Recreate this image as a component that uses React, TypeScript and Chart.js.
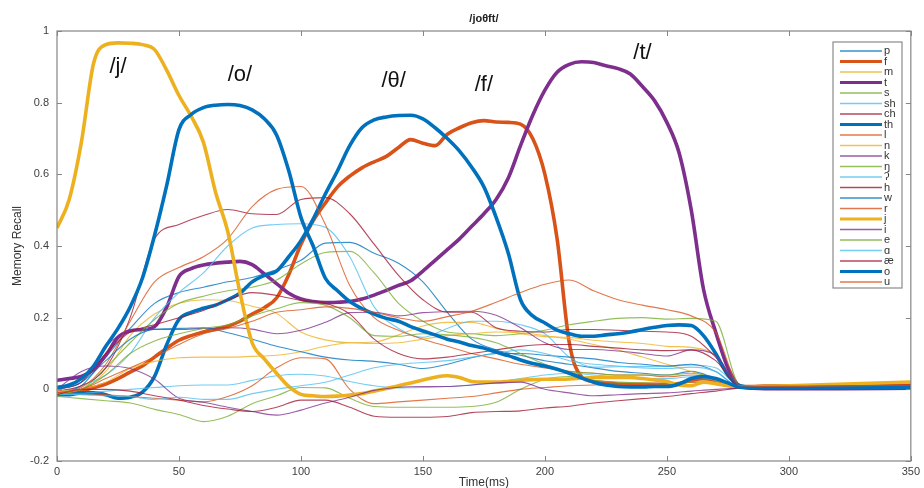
import React, { useEffect, useRef } from "react";
import { Chart, registerables } from "chart.js";

Chart.register(...registerables);

// ---------- data ----------
const titleText = "/joθft/";
const xTicks = [0, 50, 100, 150, 200, 250, 300, 350];
const yTicks = [-0.2, 0, 0.2, 0.4, 0.6, 0.8, 1];

const timeFine = [
  0, 5, 10, 15, 20, 25, 30, 35, 40, 45, 50, 55, 60, 65, 70, 75, 80, 85, 90, 95,
  100, 105, 110, 115, 120, 125, 130, 135, 140, 145, 150, 155, 160, 165, 170, 175,
  180, 185, 190, 195, 200, 205, 210, 215, 220, 225, 230, 235, 240, 245, 250, 255,
  260, 265, 270, 275, 280, 285, 290, 320, 350,
];
const timeCoarse = [
  0, 10, 20, 30, 40, 50, 60, 70, 80, 90, 100, 110, 120, 130, 140, 150, 160, 170,
  180, 190, 200, 210, 220, 230, 240, 250, 260, 270, 280, 290, 350,
];

// thick (target phonemes), on timeFine
const jValues = [0.45,0.53,0.69,0.91,0.962,0.967,0.966,0.962,0.948,0.89,0.82,0.762,0.69,0.55,0.44,0.27,0.13,0.085,0.045,0.008,-0.014,-0.018,-0.02,-0.019,-0.016,-0.012,-0.005,0.002,0.01,0.018,0.026,0.034,0.038,0.033,0.022,0.02,0.02,0.022,0.025,0.027,0.028,0.028,0.029,0.031,0.033,0.033,0.033,0.033,0.03,0.026,0.022,0.012,0.01,0.02,0.016,0.01,0.006,0.007,0.008,0.014,0.02];
const oValues = [0.005,0.012,0.03,0.065,0.12,0.17,0.23,0.31,0.43,0.57,0.725,0.767,0.786,0.793,0.795,0.792,0.78,0.755,0.71,0.61,0.48,0.40,0.31,0.275,0.245,0.225,0.21,0.198,0.19,0.175,0.163,0.152,0.14,0.132,0.122,0.115,0.104,0.094,0.082,0.072,0.065,0.056,0.045,0.032,0.02,0.012,0.008,0.007,0.007,0.008,0.008,0.015,0.03,0.036,0.03,0.018,0.006,0.005,0.005,0.005,0.006];
const thValues = [-0.015,-0.015,-0.01,-0.01,-0.015,-0.025,-0.022,-0.008,0.036,0.125,0.195,0.215,0.226,0.235,0.25,0.268,0.3,0.318,0.33,0.37,0.415,0.475,0.545,0.61,0.68,0.73,0.752,0.76,0.764,0.765,0.755,0.73,0.70,0.665,0.62,0.565,0.48,0.38,0.25,0.205,0.185,0.165,0.155,0.148,0.148,0.152,0.155,0.16,0.167,0.173,0.178,0.18,0.178,0.15,0.1,0.04,0.01,0.006,0.006,0.006,0.007];
const fValues = [-0.012,-0.012,-0.005,0.005,0.015,0.03,0.048,0.065,0.09,0.115,0.137,0.15,0.16,0.168,0.176,0.19,0.21,0.228,0.255,0.32,0.405,0.47,0.52,0.565,0.595,0.618,0.635,0.65,0.675,0.697,0.687,0.68,0.712,0.73,0.744,0.75,0.746,0.745,0.74,0.70,0.60,0.42,0.13,0.035,0.022,0.018,0.015,0.014,0.014,0.014,0.014,0.016,0.025,0.03,0.025,0.015,0.008,0.008,0.009,0.01,0.012];
const tValues = [0.025,0.03,0.036,0.055,0.095,0.145,0.163,0.167,0.175,0.23,0.315,0.337,0.347,0.352,0.355,0.357,0.348,0.322,0.295,0.268,0.252,0.245,0.242,0.243,0.245,0.252,0.263,0.276,0.29,0.303,0.33,0.36,0.39,0.42,0.455,0.49,0.53,0.59,0.68,0.765,0.835,0.885,0.907,0.914,0.912,0.903,0.895,0.88,0.845,0.805,0.745,0.66,0.50,0.28,0.16,0.06,0.008,0.003,0.002,0.002,0.003];

// thin (other phonemes), on timeCoarse
const pValues = [-0.01,0.01,0.09,0.17,0.24,0.27,0.285,0.3,0.312,0.334,0.36,0.408,0.41,0.38,0.352,0.3,0.215,0.14,0.11,0.095,0.08,0.07,0.06,0.05,0.045,0.04,0.05,0.03,0.005,0.005,0.008];
const mValues = [-0.01,0.0,0.05,0.15,0.21,0.24,0.25,0.248,0.232,0.212,0.16,0.138,0.13,0.132,0.152,0.177,0.187,0.187,0.17,0.155,0.147,0.145,0.137,0.132,0.128,0.12,0.117,0.095,0.01,0.006,0.01];
const sValues = [-0.01,0.0,0.06,0.13,0.195,0.24,0.26,0.275,0.285,0.305,0.35,0.382,0.385,0.325,0.24,0.19,0.16,0.155,0.15,0.155,0.165,0.18,0.19,0.198,0.2,0.196,0.198,0.19,0.01,0.005,0.008];
const shValues = [-0.01,0.01,0.04,0.1,0.2,0.27,0.325,0.4,0.45,0.46,0.462,0.452,0.37,0.23,0.17,0.145,0.17,0.19,0.19,0.18,0.155,0.09,0.062,0.063,0.064,0.064,0.068,0.06,0.008,0.005,0.008];
const chValues = [-0.005,0.01,0.06,0.2,0.42,0.46,0.485,0.502,0.49,0.488,0.53,0.535,0.49,0.405,0.318,0.25,0.215,0.215,0.172,0.162,0.16,0.167,0.167,0.165,0.162,0.16,0.148,0.09,0.008,0.006,0.012];
const lValues = [-0.01,0.005,0.07,0.19,0.3,0.34,0.37,0.42,0.51,0.558,0.566,0.46,0.29,0.2,0.165,0.14,0.12,0.1,0.085,0.07,0.06,0.05,0.045,0.04,0.04,0.035,0.04,0.03,0.006,0.006,0.01];
const nValues = [-0.005,0.0,0.02,0.058,0.078,0.088,0.09,0.09,0.092,0.095,0.105,0.12,0.13,0.128,0.13,0.14,0.15,0.155,0.16,0.158,0.15,0.14,0.125,0.11,0.09,0.07,0.05,0.03,0.006,0.006,0.01];
const kValues = [0.0,0.02,0.12,0.163,0.167,0.167,0.17,0.172,0.168,0.155,0.165,0.187,0.214,0.215,0.205,0.214,0.217,0.218,0.207,0.172,0.13,0.111,0.111,0.107,0.1,0.093,0.11,0.095,0.008,0.005,0.008];
const ngValues = [-0.02,-0.026,-0.032,-0.038,-0.056,-0.07,-0.09,-0.075,-0.04,-0.018,0.005,0.004,-0.025,-0.048,-0.05,-0.05,-0.05,-0.048,-0.036,0.0,0.028,0.036,0.025,0.02,0.018,0.015,0.02,0.02,0.006,0.006,0.01];
const glottalValues = [-0.015,-0.012,-0.005,0.0,0.005,0.01,0.012,0.012,0.025,0.038,0.042,0.037,0.022,0.01,0.004,0.005,0.008,0.012,0.02,0.03,0.04,0.045,0.04,0.035,0.03,0.03,0.035,0.025,0.006,0.005,0.008];
const hValues = [0.0,0.02,0.1,0.16,0.18,0.2,0.22,0.25,0.27,0.262,0.248,0.24,0.21,0.14,0.1,0.085,0.09,0.1,0.11,0.12,0.125,0.125,0.12,0.115,0.11,0.108,0.11,0.08,0.008,0.008,0.012];
const wValues = [0.0,0.02,0.08,0.14,0.168,0.17,0.172,0.158,0.14,0.12,0.105,0.09,0.082,0.078,0.07,0.058,0.07,0.088,0.1,0.1,0.095,0.09,0.085,0.075,0.07,0.065,0.07,0.05,0.005,0.004,0.006];
const rValues = [-0.01,-0.012,-0.015,-0.02,-0.025,-0.03,-0.035,-0.02,0.01,0.06,0.088,0.085,0.0,-0.04,-0.035,-0.03,-0.025,-0.02,-0.01,0.0,0.005,0.01,0.012,0.014,0.015,0.015,0.02,0.02,0.008,0.008,0.012];
const iValues = [0.0,0.05,0.065,0.058,0.028,-0.025,-0.036,-0.05,-0.062,-0.072,-0.058,-0.038,-0.022,-0.003,0.006,0.008,0.008,0.012,0.018,0.02,0.0,-0.01,-0.018,-0.015,-0.012,-0.01,-0.005,0.0,0.003,0.002,0.0];
const eValues = [-0.015,0.0,0.04,0.1,0.135,0.155,0.17,0.18,0.205,0.225,0.242,0.235,0.2,0.15,0.148,0.155,0.152,0.145,0.13,0.1,0.07,0.05,0.045,0.04,0.04,0.04,0.045,0.03,0.006,0.006,0.01];
const alphaValues = [-0.012,-0.015,-0.018,-0.02,-0.028,-0.022,-0.028,-0.028,-0.012,0.0,0.01,0.02,0.04,0.06,0.07,0.075,0.08,0.09,0.1,0.11,0.1,0.08,0.07,0.065,0.06,0.058,0.062,0.05,0.006,0.005,0.008];
const aeValues = [-0.015,0.0,0.0,-0.005,-0.018,-0.03,-0.045,-0.055,-0.062,-0.05,-0.03,-0.03,-0.05,-0.075,-0.078,-0.078,-0.076,-0.065,-0.062,-0.06,-0.052,-0.047,-0.038,-0.032,-0.026,-0.02,-0.012,-0.005,0.004,0.006,0.012];
const uValues = [-0.01,0.0,0.03,0.06,0.09,0.125,0.155,0.17,0.19,0.215,0.222,0.23,0.226,0.215,0.2,0.19,0.203,0.218,0.243,0.27,0.293,0.305,0.275,0.25,0.235,0.222,0.205,0.16,0.01,0.008,0.012];

const phonemeLabels = ["p","f","m","t","s","sh","ch","th","l","n","k","ŋ","ʔ","h","w","r","j","i","e","ɑ","æ","o","u"];
const phonemeValues = [pValues,fValues,mValues,tValues,sValues,shValues,chValues,thValues,lValues,nValues,kValues,ngValues,glottalValues,hValues,wValues,rValues,jValues,iValues,eValues,alphaValues,aeValues,oValues,uValues];
const targetPhonemes = ["f","t","th","j","o"];

const annotations = [
  { text: "/j/", t: 25, v: 0.9 },
  { text: "/o/", t: 75, v: 0.877 },
  { text: "/θ/", t: 138, v: 0.86 },
  { text: "/f/", t: 175, v: 0.85 },
  { text: "/t/", t: 240, v: 0.94 },
];

const palette = [
  [0, 114, 189],
  [217, 83, 25],
  [237, 177, 32],
  [126, 47, 142],
  [119, 172, 48],
  [77, 190, 238],
  [162, 20, 47],
];

export default function App() {
  const ref = useRef<HTMLCanvasElement | null>(null);

  useEffect(() => {
    if (!ref.current) return;
    const font = "'Liberation Sans', Arial, Helvetica, sans-serif";
    Chart.defaults.font.family = font;

    const datasets = phonemeLabels.map((name, i) => {
      const thick = targetPhonemes.includes(name);
      const vals = phonemeValues[i];
      const times = thick ? timeFine : timeCoarse;
      const c = palette[i % palette.length];
      const color = thick
        ? `rgb(${c[0]},${c[1]},${c[2]})`
        : `rgba(${c[0]},${c[1]},${c[2]},0.78)`;
      return {
        label: name,
        data: times.map((t, k) => ({ x: t, y: vals[k] })),
        borderColor: color,
        backgroundColor: color,
        borderWidth: thick ? 3.6 : 1.1,
        pointRadius: 0,
        fill: false,
        cubicInterpolationMode: "monotone" as const,
        order: -i,
      };
    });

    const overlay = {
      id: "overlay",
      afterDatasetsDraw(chart: any) {
        const { ctx, chartArea: a, scales } = chart;
        const xs = scales.x;
        const ys = scales.y;
        ctx.save();
        // axes box
        ctx.strokeStyle = "#858585";
        ctx.lineWidth = 1.2;
        ctx.strokeRect(a.left, a.top, a.right - a.left, a.bottom - a.top);
        // inward ticks
        ctx.lineWidth = 1;
        ctx.beginPath();
        xTicks.forEach((t) => {
          const px = Math.round(xs.getPixelForValue(t)) + 0.5;
          ctx.moveTo(px, a.bottom);
          ctx.lineTo(px, a.bottom - 5);
          ctx.moveTo(px, a.top);
          ctx.lineTo(px, a.top + 5);
        });
        yTicks.forEach((v) => {
          const py = Math.round(ys.getPixelForValue(v)) + 0.5;
          ctx.moveTo(a.left, py);
          ctx.lineTo(a.left + 5, py);
          ctx.moveTo(a.right, py);
          ctx.lineTo(a.right - 5, py);
        });
        ctx.stroke();

        // legend
        const lx = 833, ly = 42, lw = 69, lh = 246;
        ctx.fillStyle = "#ffffff";
        ctx.fillRect(lx, ly, lw, lh);
        ctx.strokeStyle = "#8a8a8a";
        ctx.lineWidth = 1.2;
        ctx.strokeRect(lx, ly, lw, lh);
        const step = 10.5;
        chart.data.datasets.forEach((ds: any, i: number) => {
          const yy = 51 + i * step;
          ctx.strokeStyle = ds.borderColor;
          ctx.lineWidth = ds.borderWidth > 2 ? 3 : 1.6;
          ctx.beginPath();
          ctx.moveTo(840, yy);
          ctx.lineTo(882, yy);
          ctx.stroke();
          ctx.fillStyle = "#333333";
          ctx.font = `11px ${font}`;
          ctx.textAlign = "left";
          ctx.textBaseline = "middle";
          ctx.fillText(ds.label, 884, yy);
        });

        // phoneme annotations
        ctx.fillStyle = "#111111";
        ctx.font = `22px ${font}`;
        ctx.textAlign = "center";
        ctx.textBaseline = "middle";
        annotations.forEach((an) => {
          ctx.fillText(an.text, xs.getPixelForValue(an.t), ys.getPixelForValue(an.v));
        });

        // title
        ctx.font = `bold 11px ${font}`;
        ctx.fillStyle = "#222222";
        ctx.fillText(titleText, (a.left + a.right) / 2, 19);

        // axis titles
        ctx.font = `12px ${font}`;
        ctx.fillStyle = "#333333";
        ctx.fillText("Time(ms)", (a.left + a.right) / 2, 483);
        ctx.save();
        ctx.translate(18, (a.top + a.bottom) / 2);
        ctx.rotate(-Math.PI / 2);
        ctx.fillText("Memory Recall", 0, 0);
        ctx.restore();

        ctx.restore();
      },
    };

    const chart = new Chart(ref.current, {
      type: "line",
      data: { datasets: datasets as any },
      options: {
        animation: false,
        responsive: false,
        maintainAspectRatio: false,
        layout: { padding: { top: 31, right: 12, left: 0, bottom: 0 } },
        plugins: { legend: { display: false }, tooltip: { enabled: false }, title: { display: false } },
        scales: {
          x: {
            type: "linear",
            min: 0,
            max: 350,
            afterBuildTicks: (s: any) => {
              s.ticks = xTicks.map((v) => ({ value: v }));
            },
            afterFit: (s: any) => {
              s.height = 27;
            },
            ticks: {
              padding: 4,
              color: "#404040",
              font: { size: 11 },
              maxRotation: 0,
              callback: (v: any) => String(v),
            },
            grid: { display: false, drawTicks: false },
            border: { display: false },
          },
          y: {
            type: "linear",
            min: -0.2,
            max: 1,
            afterBuildTicks: (s: any) => {
              s.ticks = yTicks.map((v) => ({ value: v }));
            },
            afterFit: (s: any) => {
              s.width = 57;
            },
            ticks: {
              padding: 8,
              color: "#404040",
              font: { size: 11 },
              callback: (v: any) => String(Math.round(Number(v) * 10) / 10),
            },
            grid: { display: false, drawTicks: false },
            border: { display: false },
          },
        },
      },
      plugins: [overlay],
    });
    return () => chart.destroy();
  }, []);

  return (
    <div style={{ position: "absolute", left: 0, top: 0, width: 924, height: 488, background: "#fff" }}>
      <canvas ref={ref} width={924} height={488} />
    </div>
  );
}
